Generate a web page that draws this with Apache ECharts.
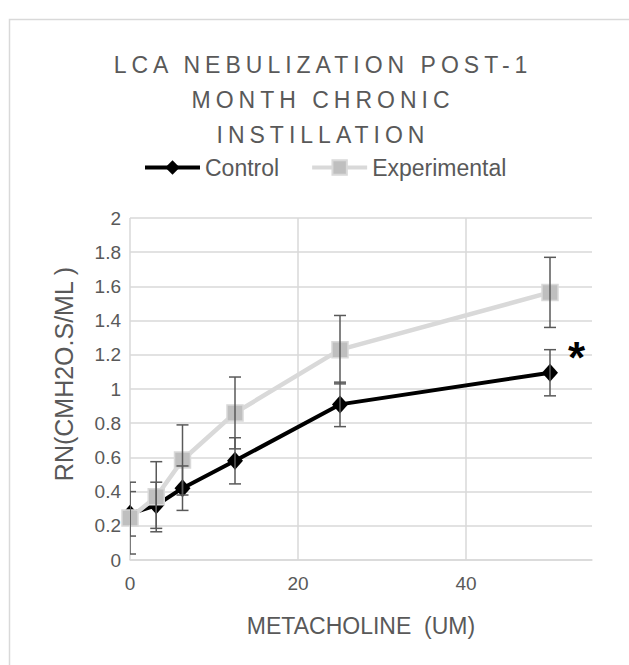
<!DOCTYPE html>
<html>
<head>
<meta charset="utf-8">
<script src="https://cdn.jsdelivr.net/npm/echarts@6/dist/echarts.min.js"></script>
<style>
html,body{margin:0;padding:0;background:#fff;}
#chart{width:629px;height:665px;}
</style>
</head>
<body>
<div id="chart"></div>
<script>
// ---- data ----
var titleLines = ['LCA NEBULIZATION POST-1', 'MONTH CHRONIC', 'INSTILLATION'];
var xName = 'METACHOLINE  (UM)';
var yName = 'RN(CMH2O.S/ML )';
var doses = [0, 3.125, 6.25, 12.5, 25, 50];
var controlMean = [0.27, 0.32, 0.42, 0.58, 0.91, 1.095];
var controlErr  = [0.13, 0.135, 0.13, 0.135, 0.13, 0.135];
var expMean = [0.245, 0.37, 0.585, 0.86, 1.23, 1.565];
var expErr  = [0.21, 0.205, 0.205, 0.21, 0.2, 0.205];
var seriesNames = ['Control', 'Experimental'];
var significanceMark = '*';

// ---- build ----
function pts(xs, ys) { return xs.map(function (x, i) { return [x, ys[i]]; }); }
function errData(xs, ys, es) { return xs.map(function (x, i) { return [x, ys[i] - es[i], ys[i] + es[i]]; }); }

function errRender(params, api) {
  var x = api.value(0), lo = api.value(1), hi = api.value(2);
  var pLo = api.coord([x, lo]), pHi = api.coord([x, hi]);
  var cap = 6;
  var st = { stroke: '#595959', lineWidth: 1.5 };
  return {
    type: 'group',
    children: [
      { type: 'line', shape: { x1: pLo[0], y1: pLo[1], x2: pHi[0], y2: pHi[1] }, style: st },
      { type: 'line', shape: { x1: pLo[0] - cap, y1: pLo[1], x2: pLo[0] + cap, y2: pLo[1] }, style: st },
      { type: 'line', shape: { x1: pHi[0] - cap, y1: pHi[1], x2: pHi[0] + cap, y2: pHi[1] }, style: st }
    ]
  };
}

var controlData = pts(doses, controlMean);
var lastIdx = controlData.length - 1;
controlData[lastIdx] = {
  value: controlData[lastIdx],
  label: { show: true, formatter: significanceMark, position: 'right', offset: [5, -15],
           fontSize: 44, fontWeight: 'bold', color: '#000', fontFamily: 'Liberation Sans' }
};

var chart = echarts.init(document.getElementById('chart'), null, { renderer: 'svg' });
var textColor = '#595959';
var gridColor = '#d9d9d9';
chart.setOption({
  animation: false,
  backgroundColor: '#fff',
  textStyle: { fontFamily: 'Liberation Sans' },
  graphic: [{
    type: 'rect', left: 7, top: 17, shape: { width: 800, height: 800 },
    style: { fill: 'none', stroke: gridColor, lineWidth: 1.5 }, z: -10
  }],
  title: {
    text: titleLines.join('\n'),
    left: 318, textAlign: 'center', top: 42,
    textStyle: { fontSize: 23, fontWeight: 'normal', color: textColor, lineHeight: 35, fontFamily: 'Liberation Sans' }
  },
  legend: {
    top: 156, left: 143, padding: 0,
    itemWidth: 55, itemHeight: 18, itemGap: 31,
    lineStyle: { width: 4 },
    textStyle: { fontSize: 23, color: textColor, fontFamily: 'Liberation Sans' },
    data: seriesNames
  },
  grid: { left: 130, right: 37, top: 218, bottom: 105, containLabel: false },
  xAxis: {
    type: 'value', min: 0, max: 55, interval: 20,
    name: xName, nameLocation: 'middle', nameGap: 54,
    nameTextStyle: { fontSize: 23, color: textColor },
    axisLine: { show: true, lineStyle: { color: gridColor, width: 1.5 } },
    axisTick: { show: false },
    axisLabel: { fontSize: 19, color: textColor, margin: 14, showMaxLabel: false },
    splitLine: { show: true, lineStyle: { color: [gridColor, gridColor, gridColor, 'rgba(0,0,0,0)'], width: 1.5 } }
  },
  yAxis: {
    type: 'value', min: 0, max: 2, interval: 0.2,
    name: yName, nameLocation: 'middle', nameGap: 54,
    nameTextStyle: { fontSize: 25, color: textColor, padding: [0, 0, 0, 30] },
    axisLine: { show: false },
    axisTick: { show: false },
    axisLabel: { fontSize: 19, color: textColor, margin: 9 },
    splitLine: { show: true, lineStyle: { color: gridColor, width: 1.5 } }
  },
  series: [
    {
      name: seriesNames[0], type: 'line', data: controlData,
      symbol: 'diamond', symbolSize: [16, 18],
      lineStyle: { color: '#000', width: 4 },
      itemStyle: { color: '#000' },
      z: 3
    },
    {
      name: seriesNames[1], type: 'line', data: pts(doses, expMean),
      symbol: 'rect', symbolSize: 16,
      lineStyle: { color: '#d9d9d9', width: 4.5 },
      itemStyle: { color: '#bfbfbf', borderColor: '#d9d9d9', borderWidth: 1.5 },
      z: 4
    },
    {
      type: 'custom', renderItem: errRender, data: errData(doses, controlMean, controlErr),
      clip: true, z: 5, silent: true
    },
    {
      type: 'custom', renderItem: errRender, data: errData(doses, expMean, expErr),
      clip: true, z: 5, silent: true
    }
  ]
});

// letter spacing for the title lines (as in the reference)
setTimeout(function () {
  var texts = document.querySelectorAll('#chart svg text');
  texts.forEach(function (t) {
    if (titleLines.indexOf(t.textContent) >= 0) { t.style.letterSpacing = '5px'; }
  });
}, 0);
</script>
</body>
</html>
